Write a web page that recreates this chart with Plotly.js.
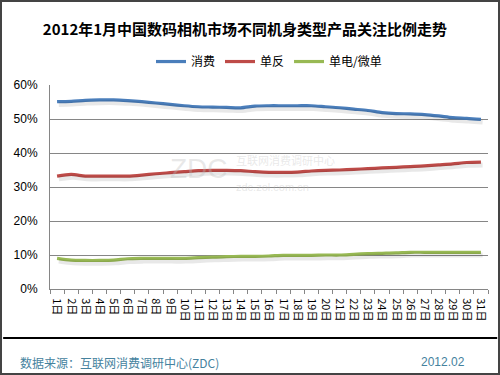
<!DOCTYPE html>
<html><head><meta charset="utf-8">
<script src="https://cdn.plot.ly/plotly-3.0.1.min.js"></script>
<style>
html,body{margin:0;padding:0;background:#fff;}
#wrap{position:relative;width:500px;height:375px;}
#frame{position:absolute;left:0;top:0;width:500px;height:375px;border:2px solid #444;box-sizing:border-box;pointer-events:none;}
</style></head>
<body>
<div id="wrap"><div id="chart" style="width:500px;height:375px;"></div><div id="frame"></div></div>
<script>
const days = ["1日","2日","3日","4日","5日","6日","7日","8日","9日","10日","11日","12日","13日","14日","15日","16日","17日","18日","19日","20日","21日","22日","23日","24日","25日","26日","27日","28日","29日","30日","31日"];
const seriesNames = ["消费","单反","单电/微单"];
const consumer = [55.1,55.2,55.5,55.6,55.6,55.4,55.1,54.7,54.3,53.9,53.6,53.5,53.4,53.3,53.8,53.9,53.9,53.9,53.9,53.6,53.3,52.9,52.5,51.9,51.6,51.5,51.3,50.9,50.4,50.2,49.9];
const dslr = [33.2,33.7,33.2,33.2,33.2,33.2,33.5,33.9,34.2,34.5,34.8,34.9,34.9,34.8,34.5,34.3,34.3,34.4,34.7,34.9,35.0,35.2,35.4,35.6,35.8,36.0,36.2,36.5,36.8,37.2,37.3];
const mirrorless = [9.0,8.5,8.4,8.4,8.5,8.9,9.0,9.0,9.0,9.0,9.2,9.4,9.5,9.6,9.6,9.7,9.9,9.9,9.9,10.0,10.0,10.2,10.4,10.5,10.6,10.8,10.8,10.8,10.8,10.8,10.8];
const yTicks = [0,10,20,30,40,50,60];
const yTickText = ["0%","10%","20%","30%","40%","50%","60%"];
const colors = ["#4a7ebb","#be4b48","#98b954"];
const allSeries = [consumer, dslr, mirrorless];

const traces = [];
// soft shadows (same data, drawn on slightly offset overlay axes)
allSeries.forEach((s)=>{
  traces.push({x:days, y:s, type:'scatter', mode:'lines', xaxis:'x2', yaxis:'y2',
    line:{color:'rgba(0,0,0,0.09)', width:5, shape:'spline', smoothing:0.8},
    hoverinfo:'skip', showlegend:false});
});
allSeries.forEach((s,i)=>{
  traces.push({x:days, y:s, type:'scatter', mode:'lines', name:seriesNames[i],
    line:{color:colors[i], width:3.2, shape:'spline', smoothing:0.8}});
});

const layout = {
  width:500, height:375,
  margin:{l:50, r:12, t:85, b:86},
  paper_bgcolor:'#fff', plot_bgcolor:'#fff',
  font:{family:'"Noto Sans CJK SC", "Liberation Sans", sans-serif', color:'#000'},
  title:{text:'2012年1月中国数码相机市场不同机身类型产品关注比例走势',
    font:{size:15, color:'#000', family:'"Noto Sans CJK SC", sans-serif', weight:'bold'},
    x:0.49, xanchor:'center', y:0.92, yanchor:'middle'},
  showlegend:true,
  legend:{orientation:'h', x:0.5, xanchor:'center', y:1.115, yanchor:'middle',
    font:{size:12, family:'"Noto Sans CJK SC", sans-serif'}, itemwidth:30, tracegroupgap:0},
  xaxis:{type:'category', range:[-0.5,30.5], tickangle:90, ticks:'outside', tickson:'boundaries', ticklen:4,
    tickcolor:'#868686', showline:true, linecolor:'#868686', linewidth:1, showgrid:false, ticklabelstandoff:6,
    tickfont:{size:11, family:'"Noto Sans CJK SC", sans-serif', color:'#000'}, fixedrange:true},
  yaxis:{range:[0,60], tickvals:yTicks, ticktext:yTickText, showgrid:true, gridcolor:'#868686',
    gridwidth:1, showline:true, linecolor:'#868686', zeroline:false, ticks:'', ticklabelstandoff:9,
    tickfont:{size:12, family:'"Liberation Sans", Arial, sans-serif', color:'#000'}, fixedrange:true},
  xaxis2:{type:'category', overlaying:'x', range:[-0.62,30.38], visible:false, fixedrange:true},
  yaxis2:{overlaying:'y', range:[0.8,60.8], visible:false, fixedrange:true},
  shapes:[
    {type:'line', xref:'paper', yref:'paper', x0:-0.107, x1:1.021, y0:-0.24, y1:-0.24,
     line:{color:'#000', width:2}}
  ],
  annotations:[
    {text:'ZDC', xref:'paper', yref:'paper', x:0.27, y:0.593, showarrow:false,
     font:{size:28, color:'rgba(190,190,190,0.35)', family:'"Liberation Sans", sans-serif'}},
    {text:'互联网消费调研中心', xref:'paper', yref:'paper', x:0.42, y:0.63, xanchor:'left', showarrow:false,
     font:{size:11, color:'rgba(190,190,190,0.35)', family:'"Noto Sans CJK SC", sans-serif'}},
    {text:'zdc.zol.com.cn', xref:'paper', yref:'paper', x:0.42, y:0.5, xanchor:'left', showarrow:false,
     font:{size:11, color:'rgba(190,190,190,0.35)', family:'"Liberation Sans", sans-serif'}},
    {text:'数据来源：互联网消费调研中心(ZDC)', xref:'paper', yref:'paper', x:-0.073, y:-0.358,
     xanchor:'left', yanchor:'middle', showarrow:false,
     font:{size:12, color:'#45829e', family:'"Noto Sans CJK SC", sans-serif'}},
    {text:'2012.02', xref:'paper', yref:'paper', x:0.952, y:-0.358,
     xanchor:'right', yanchor:'middle', showarrow:false,
     font:{size:12, color:'#45829e', family:'"Liberation Sans", sans-serif'}}
  ]
};
Plotly.newPlot('chart', traces, layout, {displayModeBar:false, staticPlot:true});
</script>
</body></html>
